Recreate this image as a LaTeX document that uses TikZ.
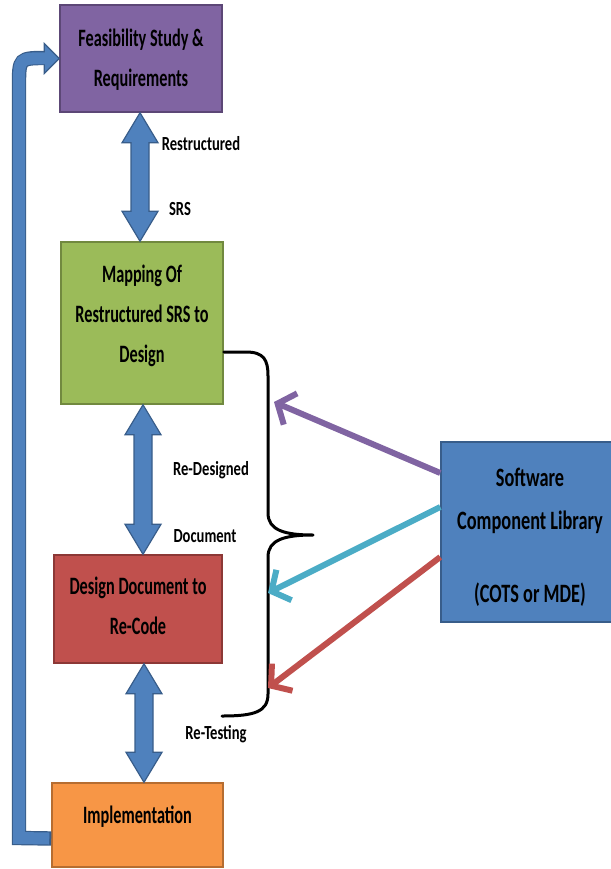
\documentclass[tikz,border=0pt]{standalone}
\usepackage{fontspec}
\newfontfamily\cfontbox{Carlito}[FakeStretch=0.65]
\newfontfamily\cfontsw{Carlito}[FakeStretch=0.69]
\newfontfamily\cfontlbl{Carlito}[FakeStretch=0.73]
\usetikzlibrary{arrows.meta,calc}
\definecolor{pfill}{HTML}{8064A2}\definecolor{pdraw}{HTML}{5C4776}
\definecolor{gfill}{HTML}{9BBB59}\definecolor{gdraw}{HTML}{71893F}
\definecolor{rfill}{HTML}{C0504D}\definecolor{rdraw}{HTML}{8C3836}
\definecolor{ofill}{HTML}{F79646}\definecolor{odraw}{HTML}{B66D31}
\definecolor{bfill}{HTML}{4F81BD}\definecolor{bdraw}{HTML}{385D8A}
\definecolor{cyanarrow}{HTML}{4BACC6}
\newcommand\vdarrow[2]{%
\filldraw[blockarrow] (#1) -- ($(#1)+(18,30)$) -- ($(#1)+(9,30)$) -- ($(#2)+(9,-30)$) -- ($(#2)+(18,-30)$) -- (#2) -- ($(#2)+(-18,-30)$) -- ($(#2)+(-9,-30)$) -- ($(#1)+(-9,30)$) -- ($(#1)+(-18,30)$) -- cycle;}
\begin{document}
\begin{tikzpicture}[x=1pt,y=-1pt,
  box/.style={rectangle, line width=1.5pt, inner sep=0pt},
  boxtext/.style={align=center, inner sep=0pt, text=black,
    font=\cfontbox\bfseries\fontsize{25}{40}\selectfont},
  lbl/.style={font=\cfontlbl\bfseries\fontsize{20}{24}\selectfont, text=black, inner sep=0pt, anchor=base},
  blockarrow/.style={fill=bfill, draw=bdraw, line width=1.2pt, line join=miter},
  thin arrow/.style={line width=6pt, -{Straight Barb[length=14pt,width=34pt]}},
  brace/.style={line width=3pt, line join=round, line cap=round, black}]
\useasboundingbox (0,0) rectangle (610,869);
% boxes
\node[box, fill=pfill, draw=pdraw, minimum width=162, minimum height=107] (feas) at (141,58.5) {};
\node[box, fill=gfill, draw=gdraw, minimum width=162, minimum height=162] (map) at (142,323) {};
\node[box, fill=rfill, draw=rdraw, minimum width=168, minimum height=108] (dd) at (138,609) {};
\node[box, fill=ofill, draw=odraw, minimum width=171, minimum height=84] (impl) at (137.5,825) {};
\node[box, fill=bfill, draw=bdraw, minimum width=178, minimum height=180] (sw) at (530,532) {};
\node[boxtext] (feast) at ([yshift=-1pt]feas.center) {Feasibility Study \&\\Requirements};
\node[boxtext] (mapt) at ([yshift=7pt]map.center) {Mapping Of\\Restructured SRS to\\Design};
\node[boxtext] (ddt) at ([yshift=3pt]dd.center) {Design Document to\\Re-Code};
\node[boxtext] (implt) at ([yshift=8pt]impl.center) {Implementation};
\node[boxtext, font=\cfontsw\bfseries\fontsize{26.5}{43}\selectfont] (swt) at ([yshift=-5pt]sw.center) {Software\\Component Library\\[30pt](COTS or MDE)};
% vertical double arrows
\path (140,0) coordinate (xa) (143,0) coordinate (xb) (144,0) coordinate (xc);
\coordinate (a1t) at (feas.south -| xa);
\coordinate (a1b) at (map.north -| xa);
\coordinate (a2t) at (map.south -| xb);
\coordinate (a2b) at (dd.north -| xb);
\coordinate (a3t) at (dd.south -| xc);
\coordinate (a3b) at (impl.north -| xc);
\vdarrow{a1t}{a1b}
\vdarrow{a2t}{a2b}
\vdarrow{a3t}{a3b}
% return arrow
\coordinate (r0) at ([yshift=-13.5pt]impl.west);
\coordinate (r1) at (19,838);
\coordinate (r2) at (19,86);
\coordinate (r3) at (47,58);
\coordinate (rh) at (feas.west);
\draw[line width=14.4pt, bdraw] (r0) -- (r1) -- (r2) .. controls (19,58) .. (r3);
\filldraw[blockarrow] ($(rh)+(-15,-15)$) -- (rh) -- ($(rh)+(-15,15)$) -- cycle;
\draw[line width=12pt, bfill] ([xshift=-2pt]r0) -- (r1) -- (r2) .. controls (19,58) .. ($(rh)+(-14.4,0)$);
% labels
\node[lbl] (l1) at (201,150.5) {Restructured};
\node[lbl] (l2) at (180,215) {SRS};
\node[lbl] (l3) at (211,475.5) {Re-Designed};
\node[lbl] (l4) at (205,542.5) {Document};
\node[lbl] (l5) at (216,739) {Re-Testing};
% brace
\coordinate (b0) at ([yshift=-29pt]map.east);
\coordinate (btip) at (313,535);
\coordinate (bend) at (222,716);
\draw[brace] (b0) -- (246,352) .. controls (264,352) and (268,360) .. (268,376) -- (268,513)
  .. controls (268,530) and (284,535) .. (btip)
  .. controls (284,535) and (268,540) .. (268,557) -- (268,694)
  .. controls (268,712) and (254,716) .. (bend);
% component arrows
\coordinate (t1) at (274,402);
\coordinate (t2) at (268,593);
\coordinate (t3) at (268,688);
\draw[thin arrow, pfill] ([yshift=59pt]sw.west) -- (t1);
\draw[thin arrow, cyanarrow] ([yshift=25pt]sw.west) -- (t2);
\draw[thin arrow, rfill] ([yshift=-25pt]sw.west) -- (t3);
\end{tikzpicture}
\end{document}
